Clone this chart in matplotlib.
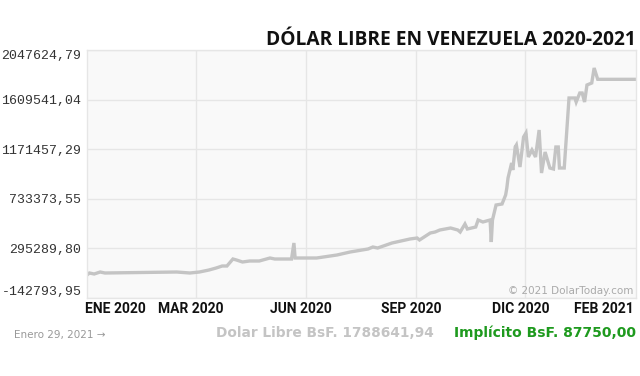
import numpy as np
import pandas as pd
import matplotlib
matplotlib.use("Agg")
import matplotlib.pyplot as plt
import matplotlib.dates as mdates

# Dolar libre BsF
dates = ["2019-12-01", "2019-12-03", "2019-12-07", "2019-12-12", "2019-12-16",
         "2020-02-14", "2020-02-25", "2020-03-04", "2020-03-12", "2020-03-18",
         "2020-03-23", "2020-03-27", "2020-04-01", "2020-04-04", "2020-04-09",
         "2020-04-15", "2020-04-23", "2020-05-02", "2020-05-06", "2020-05-20",
         "2020-05-22", "2020-05-23", "2020-06-10", "2020-06-27", "2020-07-08",
         "2020-07-23", "2020-07-27", "2020-07-31", "2020-08-12", "2020-08-27",
         "2020-09-02", "2020-09-04", "2020-09-13", "2020-09-17", "2020-09-21",
         "2020-09-30", "2020-10-06", "2020-10-08", "2020-10-12", "2020-10-14",
         "2020-10-21", "2020-10-23", "2020-10-27", "2020-11-02", "2020-11-03",
         "2020-11-04", "2020-11-07", "2020-11-12", "2020-11-15", "2020-11-16",
         "2020-11-17", "2020-11-20", "2020-11-21", "2020-11-23", "2020-11-24",
         "2020-11-27", "2020-11-30", "2020-12-02", "2020-12-04", "2020-12-07",
         "2020-12-10", "2020-12-13", "2020-12-15", "2020-12-18", "2020-12-20",
         "2020-12-22", "2020-12-25", "2020-12-27", "2020-12-29", "2020-12-30",
         "2021-01-03", "2021-01-07", "2021-01-12", "2021-01-13", "2021-01-16",
         "2021-01-18", "2021-01-20", "2021-01-22", "2021-01-26", "2021-01-28",
         "2021-01-31", "2021-03-04"]
values = [60300, 78000, 69200, 86800, 78000,
          86800, 78000, 86800, 104500, 122200,
          139800, 139800, 201700, 192800, 175200,
          184000, 184000, 210500, 201700, 201700,
          343000, 210500, 210500, 237000, 263500,
          290000, 307700, 298800, 343000, 378300,
          387100, 369500, 431300, 440100, 457800,
          475500, 457800, 440100, 510800, 466600,
          484300, 546100, 528500, 546100, 351800,
          546100, 678600, 687400, 766900, 828800,
          917100, 1049600, 987700, 1190900, 1208500,
          1014200, 1279200, 1314500, 1102600, 1164400,
          1102600, 1341000, 961200, 1146700, 1076100,
          1005400, 996600, 1190900, 1190900, 1005400,
          1005400, 1623700, 1623700, 1588300, 1667900,
          1667900, 1588300, 1738500, 1756200, 1888700,
          1788641.94, 1788641.94]

y_ticks = [-142793.95, 295289.80, 733373.55, 1171457.29, 1609541.04, 2047624.79]
grid_dates = ["2020-03-01", "2020-06-01", "2020-09-01", "2020-12-01"]
label_dates = ["2019-12-25", "2020-02-26", "2020-05-28", "2020-08-28", "2020-11-28", "2021-02-05"]
label_names = ["ENE 2020", "MAR 2020", "JUN 2020", "SEP 2020", "DIC 2020", "FEB 2021"]

x = pd.to_datetime(dates)

fig = plt.figure(figsize=(6.4, 3.76), dpi=100)
ax = fig.add_axes([87 / 640, 1 - 298 / 376, 549 / 640, 248 / 376])
ax.set_facecolor("#f9f9f9")

ax.plot(x, values, color="#c4c4c4", lw=2.4, solid_joinstyle="miter")

ax.set_xlim(pd.Timestamp("2019-12-01"), pd.Timestamp("2021-03-04"))
ax.set_ylim(y_ticks[0], y_ticks[-1])

ax.set_yticks(y_ticks)
ax.set_yticklabels([f"{v:.2f}".replace(".", ",") for v in y_ticks],
                   family="Liberation Mono", fontsize=9.5, color="#333333")
ylabels = ax.get_yticklabels()
ylabels[0].set_verticalalignment("bottom")
ylabels[-1].set_verticalalignment("top")

ax.set_xticks(pd.to_datetime(grid_dates), minor=True)
ax.set_xticks(pd.to_datetime(label_dates))
ax.set_xticklabels(label_names, family="Roboto", fontweight="bold",
                   fontsize=10, color="#111111")
ax.tick_params(axis="both", which="both", length=0)
ax.tick_params(axis="y", pad=4)
ax.tick_params(axis="x", pad=3)

ax.grid(False)
ax.yaxis.grid(True, color="#e6e6e6", lw=1)
ax.xaxis.grid(True, which="minor", color="#e6e6e6", lw=1)
for s in ax.spines.values():
    s.set_color("#e6e6e6")
    s.set_linewidth(1)

ax.text(0.995, 0.01, "© 2021 DolarToday.com", transform=ax.transAxes,
        ha="right", va="bottom", fontsize=7.5, color="#aaaaaa")

fig.text(636 / 640, 1 - 40 / 376, "DÓLAR LIBRE EN VENEZUELA 2020-2021",
         ha="right", va="center", family="Open Sans", fontweight="bold",
         fontsize=13.8, color="#111111")

fig.text(14 / 640, 1 - 335 / 376, "Enero 29, 2021 →", ha="left", va="center",
         fontsize=7.5, color="#999999")
fig.text(434 / 640, 1 - 333 / 376, "Dolar Libre BsF. 1788641,94", ha="right",
         va="center", fontweight="bold", fontsize=9.9, color="#c4c4c4")
fig.text(636 / 640, 1 - 333 / 376, "Implícito BsF. 87750,00", ha="right",
         va="center", fontweight="bold", fontsize=10, color="#1e9a1e")

fig.savefig("out.png", dpi=100)
